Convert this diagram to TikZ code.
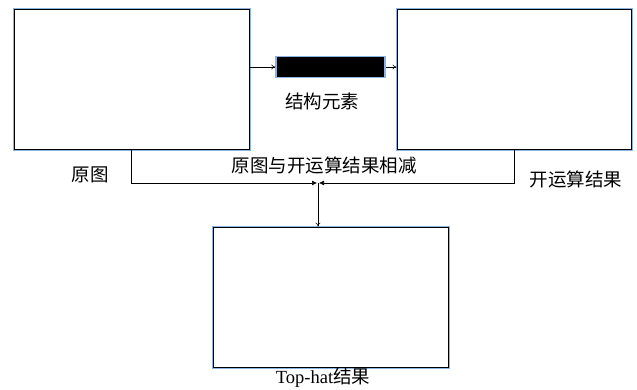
\documentclass[tikz,border=0pt]{standalone}
\usepackage{fontspec}
\setmainfont{Liberation Serif}
\newfontfamily\cjk{Noto Sans CJK SC}
\usetikzlibrary{arrows.meta}
\definecolor{boxblue}{RGB}{140,180,225}
\tikzset{
  imgbox/.style={draw=black, line width=1pt, fill=white, inner sep=0pt,
    preaction={draw=boxblue, line width=3pt}},
  barbox/.style={draw=boxblue, line width=1.5pt, fill=black, inner sep=0pt},
  lbl/.style={font=\cjk\fontsize{18.5}{20}\selectfont, inner sep=0pt},
  conn/.style={line width=0.6pt, draw=black}
}
\begin{document}
\begin{tikzpicture}[x=1pt,y=-1pt]
\useasboundingbox (0,0) rectangle (637,389);
\fill[white] (0,0) rectangle (637,389);
\node[imgbox, minimum width=235pt, minimum height=140pt] (orig) at (131.5,79) {};
\node[imgbox, minimum width=234pt, minimum height=140pt] (open) at (514,79) {};
\node[imgbox, minimum width=235pt, minimum height=140pt] (res) at (330.5,297) {};
\node[barbox, minimum width=109pt, minimum height=21pt] (se) at (330.5,67) {};
\node[lbl] (lse) at (322,101) {结构元素};
\node[lbl] (lorig) at (90,175) {原图};
\node[lbl] (lopen) at (576,179) {开运算结果};
\node[lbl] (lsub) at (324,165) {原图与开运算结果相减};
\node[lbl, font=\fontsize{18.5}{20}\selectfont] (lres) at (323,378) {Top-hat{\cjk 结果}};
\coordinate (m) at (318,183);
\draw[conn,-{To[length=4pt,width=5pt]}] (orig.east |- se.west) -- (se.west);
\draw[conn,-{To[length=4pt,width=5pt]}] (se.east) -- (open.west |- se.east);
\draw[conn,-{Latex[length=5pt,width=5pt]}] (orig.south) |- ([xshift=-1pt]m);
\draw[conn,-{Latex[length=5pt,width=5pt]}] (open.south) |- ([xshift=1pt]m);
\draw[conn,-{To[length=4pt,width=5pt]}] (m) -- (res.north -| m);
\end{tikzpicture}
\end{document}
